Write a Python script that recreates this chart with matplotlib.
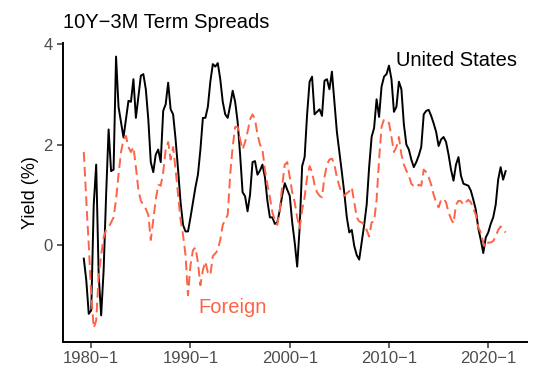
import matplotlib
matplotlib.use("Agg")
import matplotlib.pyplot as plt
import numpy as np

plt.rcParams['font.family'] = ['Liberation Sans', 'DejaVu Sans']

start_year = 1979
start_quarter = 2

us = [
    -0.27, -0.7, -1.37, -1.3, 0.8, 1.6, -0.6, -1.4, -0.5, 1.0,
    2.3, 1.47, 1.5, 3.75, 2.75, 2.45, 2.14, 2.5, 2.87, 2.85,
    3.3, 2.53, 2.95, 3.37, 3.4, 3.1, 2.5, 1.65, 1.45, 1.8,
    1.9, 1.65, 2.67, 2.8, 3.23, 2.7, 2.6, 2.1, 1.5, 0.85,
    0.4, 0.27, 0.27, 0.55, 0.85, 1.15, 1.4, 1.9, 2.53, 2.53,
    2.75, 3.25, 3.6, 3.55, 3.62, 3.3, 2.85, 2.6, 2.53, 2.78,
    3.07, 2.85, 2.45, 1.8, 1.05, 0.97, 0.67, 1.0, 1.65, 1.67,
    1.4, 1.48, 1.6, 1.35, 0.88, 0.55, 0.55, 0.42, 0.45, 0.7,
    1.0, 1.23, 1.1, 0.98, 0.45, 0.05, -0.43, 0.35, 1.57, 1.75,
    2.6, 3.25, 3.35, 2.6, 2.65, 2.7, 2.57, 3.27, 3.3, 3.1,
    3.45, 2.85, 2.25, 1.85, 1.45, 1.03, 0.55, 0.25, 0.3, -0.02,
    -0.2, -0.29, 0.05, 0.4, 0.8, 1.55, 2.15, 2.33, 2.9, 2.55,
    3.15, 3.35, 3.4, 3.57, 3.3, 2.65, 2.75, 3.25, 3.1, 2.4,
    2.0, 1.9, 1.7, 1.55, 1.65, 1.78, 1.95, 2.6, 2.67, 2.69,
    2.57, 2.42, 2.25, 1.97, 2.1, 2.15, 2.05, 1.8, 1.5, 1.28,
    1.6, 1.75, 1.38, 1.22, 1.2, 1.18, 1.08, 0.9, 0.7, 0.33,
    0.1, -0.16, 0.15, 0.25, 0.42, 0.55, 0.8, 1.3, 1.55, 1.3,
    1.47,
]

foreign = [
    1.85, 0.9, 0.0, -1.0, -1.65, -1.5, -0.6, -0.2, 0.15, 0.3,
    0.35, 0.45, 0.55, 0.9, 1.4, 1.85, 2.1, 2.17, 1.95, 1.85,
    1.95, 1.55, 1.1, 0.88, 0.8, 0.72, 0.6, 0.1, 0.5, 0.9,
    1.2, 1.18, 1.45, 1.9, 2.05, 1.7, 1.95, 1.5, 1.0, 0.5,
    0.2, -0.2, -1.0, -0.4, -0.1, -0.05, -0.35, -0.8, -0.5, -0.33,
    -0.55, -0.6, -0.22, -0.17, -0.1, 0.1, 0.4, 0.5, 0.6, 1.4,
    1.95, 2.35, 2.35, 2.1, 1.9, 2.05, 2.25, 2.5, 2.6, 2.5,
    2.2, 2.0, 1.9, 1.5, 1.2, 0.95, 0.65, 0.5, 0.4, 0.7,
    1.2, 1.6, 1.65, 1.35, 1.05, 0.85, 0.55, 0.33, 0.7, 0.95,
    1.35, 1.57, 1.45, 1.2, 1.05, 0.98, 0.95, 1.35, 1.6, 1.7,
    1.72, 1.6, 1.35, 1.17, 1.03, 0.98, 1.03, 1.07, 1.15, 0.85,
    0.55, 0.47, 0.45, 0.4, 0.3, 0.17, 0.45, 0.47, 0.9, 1.7,
    2.35, 2.5, 2.45, 2.43, 2.15, 1.85, 1.95, 2.15, 1.8, 1.6,
    1.48, 1.38, 1.22, 1.17, 1.15, 1.2, 1.18, 1.5, 1.45, 1.35,
    1.2, 1.0, 0.85, 0.75, 0.9, 0.92, 0.85, 0.65, 0.52, 0.43,
    0.8, 0.88, 0.87, 0.8, 0.85, 0.9, 0.85, 0.72, 0.6, 0.35,
    0.25, 0.05, -0.05, 0.05, 0.05, 0.08, 0.17, 0.3, 0.37, 0.3,
    0.25,
]

tick_years = [1980, 1990, 2000, 2010, 2020]
tick_labels = ["1980\u22121", "1990\u22121", "2000\u22121", "2010\u22121", "2020\u22121"]
y_ticks = [0, 2, 4]

n = len(us)
t = start_year + (start_quarter - 1) / 4 + np.arange(n) / 4

fig = plt.figure(figsize=(5.42, 3.84), dpi=100)
ax = fig.add_axes([62.7 / 542, 1 - 341.5 / 384, 464 / 542, (341.5 - 43) / 384])

red = "#FF6347"
ax.plot(t, us, color="black", lw=1.4, solid_joinstyle="round")
ax.plot(t, foreign, color=red, lw=1.4, linestyle=(0, (5, 2.6)))

span = t[-1] - t[0]
ax.set_xlim(t[0] - 0.05 * span, t[-1] + 0.05 * span)
allv = np.array(us + foreign)
vr = allv.max() - allv.min()
ax.set_ylim(allv.min() - 0.05 * vr, allv.max() + 0.05 * vr)

ax.set_xticks(tick_years)
ax.set_xticklabels(tick_labels)
ax.set_yticks(y_ticks)
ax.set_yticklabels([str(v) for v in y_ticks])

for s in ["top", "right"]:
    ax.spines[s].set_visible(False)
for s in ["left", "bottom"]:
    ax.spines[s].set_linewidth(1.4)
ax.tick_params(axis="both", length=4, width=1.1, color="#333333",
               labelcolor="#4D4D4D", labelsize=12, pad=3)

ax.set_ylabel("Yield (%)", fontsize=13, labelpad=3)
fig.text(63 / 542, 1 - 22 / 384, "10Y\u22123M Term Spreads", fontsize=14.5,
         ha="left", va="center")

ax.text(2016.76, 3.68, "United States", fontsize=14.5, color="black",
        ha="center", va="center")
ax.text(1994.2, -1.24, "Foreign", fontsize=14.5, color=red,
        ha="center", va="center")

fig.savefig("out.png", dpi=100)
